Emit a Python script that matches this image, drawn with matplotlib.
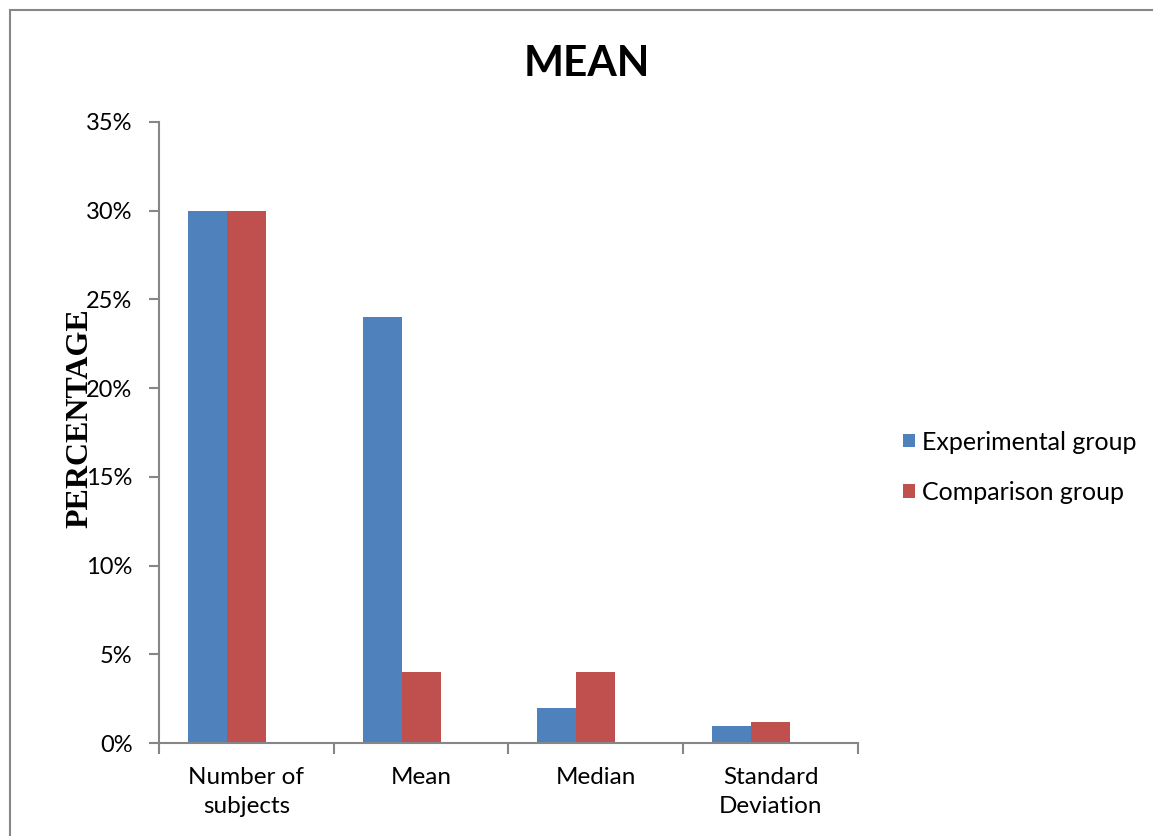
### Imports ###
import numpy as np
import matplotlib
matplotlib.use('Agg')
import matplotlib.pyplot as plt
from matplotlib.patches import Rectangle
from matplotlib.ticker import FuncFormatter

### Data ###
categories = ['Number of\nsubjects', 'Mean', 'Median', 'Standard\nDeviation']
experimental = [30, 24, 2, 0.95]
comparison = [30, 4, 4, 1.2]
series_names = ['Experimental group', 'Comparison group']

blue = '#4F81BD'
red = '#C0504D'
grey = '#868686'

plt.rcParams['font.family'] = ['Lato', 'DejaVu Sans']

fig = plt.figure(figsize=(11.53, 8.36), dpi=100)
ax = fig.add_axes([0.1379, 0.1112, 0.6062, 0.7429])

# Excel-style clustered bars with an empty third slot
n = len(categories)
slot = 0.223
pos = np.arange(n)
ax.bar(pos - slot, experimental, width=slot, color=blue, label=series_names[0])
ax.bar(pos, comparison, width=slot, color=red, label=series_names[1])

ax.set_xlim(-0.5, n - 0.5)
ax.set_ylim(0, 35)
ax.set_yticks(np.arange(0, 36, 5))
ax.yaxis.set_major_formatter(FuncFormatter(lambda v, p: f'{v:.0f}%'))
ax.tick_params(axis='y', labelsize=17, length=7, width=1.5, color=grey, pad=12)

# Category labels centred, tick marks on boundaries
ax.set_xticks(np.arange(-0.5, n, 1))
ax.set_xticklabels([])
ax.tick_params(axis='x', length=8, width=1.5, color=grey)
ax.set_xticks(pos, minor=True)
ax.set_xticklabels(categories, minor=True, fontsize=17.5, linespacing=1.5)
ax.tick_params(axis='x', which='minor', length=0, pad=17)

for side in ['top', 'right']:
    ax.spines[side].set_visible(False)
for side in ['left', 'bottom']:
    ax.spines[side].set_color(grey)
    ax.spines[side].set_linewidth(1.5)

fig.text(0.509, 0.924, 'MEAN', ha='center', va='center',
         fontsize=30.5, fontweight='bold')
# The axis title overlaps the tick labels in the original chart as well
fig.text(0.069, 0.5, 'PERCENTAGE', rotation=90, ha='center', va='center',
         fontsize=23, fontweight='bold', family='Liberation Serif')

handles, labels = ax.get_legend_handles_labels()
fig.legend(handles, labels, loc='center left', bbox_to_anchor=(0.764, 0.441),
           frameon=False, fontsize=18, handlelength=0.45, handleheight=0.45,
           handletextpad=0.3, labelspacing=1.1)

# Outer chart frame (clipped by the image on right and bottom)
fig.add_artist(Rectangle((10 / 1153, -0.1), 1.2, 1.1 - 10 / 836,
                         transform=fig.transFigure, fill=False,
                         edgecolor=grey, linewidth=1.5, clip_on=False))

fig.savefig('out.png', dpi=100)
